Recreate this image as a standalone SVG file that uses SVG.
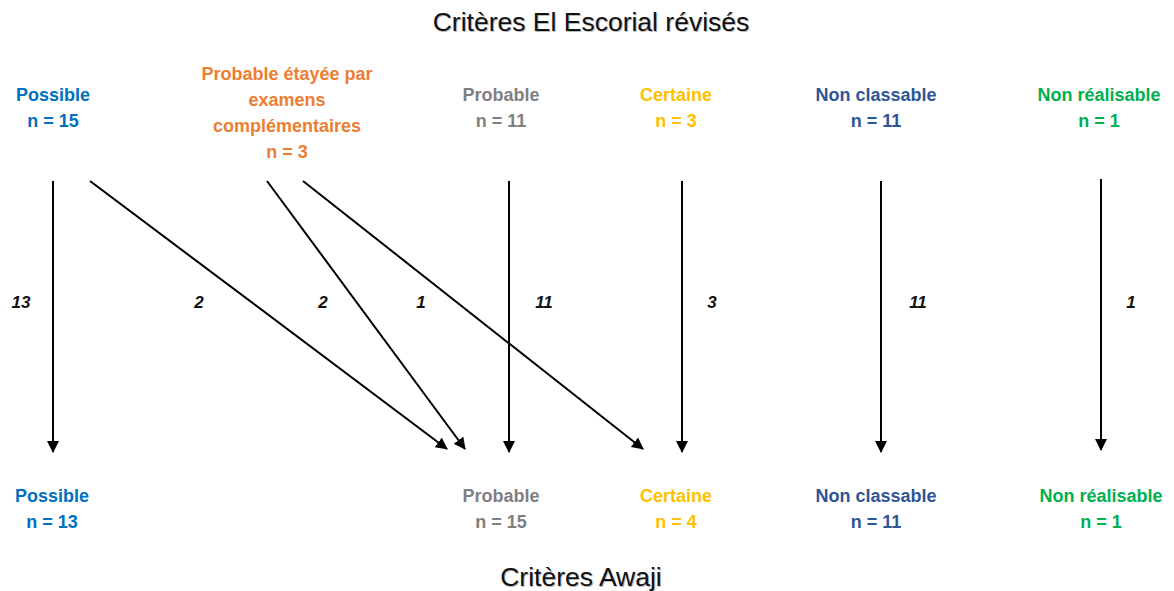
<svg xmlns="http://www.w3.org/2000/svg" width="1174" height="591" viewBox="0 0 1174 591">
<style>
.t{font-family:"Liberation Sans",Arial,sans-serif;font-size:26.5px;text-anchor:middle;fill:#111}
.sh{font-family:"Liberation Sans",Arial,sans-serif;font-size:26.5px;text-anchor:middle;fill:#bbb}
.n{font-family:"Liberation Sans",Arial,sans-serif;font-size:18px;font-weight:bold;text-anchor:middle}
.c{font-family:"Liberation Sans",Arial,sans-serif;font-size:17px;font-weight:bold;font-style:italic;text-anchor:middle;fill:#111}
.blue{fill:#0070C0}.orange{fill:#ED7D31}.gray{fill:#7F7F7F}.gold{fill:#FFC000}.dblue{fill:#2F5597}.green{fill:#00B050}
.a{stroke:#000;stroke-width:2;fill:none;marker-end:url(#ah)}
</style>
<defs>
<marker id="ah" markerWidth="12" markerHeight="12" refX="11" refY="6" orient="auto" markerUnits="userSpaceOnUse" viewBox="0 0 12 12">
<path d="M0,0 L12,6 L0,12 z" fill="#000"/>
</marker>
</defs>
<g id="title-top"><text class="sh" x="592" y="32">Critères El Escorial révisés</text><text class="t" x="591" y="31">Critères El Escorial révisés</text></g>
<g id="title-bottom"><text class="sh" x="582" y="587">Critères Awaji</text><text class="t" x="581" y="586">Critères Awaji</text></g>

<g id="top-possible"><text class="n blue" x="53" y="101">Possible</text><text class="n blue" x="53" y="127">n = 15</text></g>
<g id="top-probable-etayee"><text class="n orange" x="287" y="80">Probable  étayée par</text><text class="n orange" x="287" y="106">examens</text><text class="n orange" x="287" y="132">complémentaires</text><text class="n orange" x="287" y="158">n = 3</text></g>
<g id="top-probable"><text class="n gray" x="501" y="101">Probable</text><text class="n gray" x="501" y="127">n = 11</text></g>
<g id="top-certaine"><text class="n gold" x="676" y="101">Certaine</text><text class="n gold" x="676" y="127">n = 3</text></g>
<g id="top-nonclassable"><text class="n dblue" x="876" y="101">Non classable</text><text class="n dblue" x="876" y="127">n = 11</text></g>
<g id="top-nonrealisable"><text class="n green" x="1099" y="101">Non réalisable</text><text class="n green" x="1099" y="127">n = 1</text></g>

<g id="bot-possible"><text class="n blue" x="52" y="502">Possible</text><text class="n blue" x="52" y="528">n = 13</text></g>
<g id="bot-probable"><text class="n gray" x="501" y="502">Probable</text><text class="n gray" x="501" y="528">n = 15</text></g>
<g id="bot-certaine"><text class="n gold" x="676" y="502">Certaine</text><text class="n gold" x="676" y="528">n = 4</text></g>
<g id="bot-nonclassable"><text class="n dblue" x="876" y="502">Non classable</text><text class="n dblue" x="876" y="528">n = 11</text></g>
<g id="bot-nonrealisable"><text class="n green" x="1101" y="502">Non réalisable</text><text class="n green" x="1101" y="528">n = 1</text></g>

<g id="connectors">
<line class="a" x1="53" y1="181" x2="53" y2="452"/>
<line class="a" x1="90" y1="181" x2="447" y2="449"/>
<line class="a" x1="267" y1="181" x2="465" y2="449"/>
<line class="a" x1="303" y1="181" x2="643" y2="449"/>
<line class="a" x1="509" y1="181" x2="509" y2="452"/>
<line class="a" x1="682" y1="181" x2="682" y2="452"/>
<line class="a" x1="881" y1="181" x2="881" y2="452"/>
<line class="a" x1="1101" y1="179" x2="1101" y2="450"/>
<text class="c" x="21" y="308">13</text>
<text class="c" x="199" y="308">2</text>
<text class="c" x="323" y="308">2</text>
<text class="c" x="421" y="308">1</text>
<text class="c" x="544" y="308">11</text>
<text class="c" x="712" y="308">3</text>
<text class="c" x="918" y="308">11</text>
<text class="c" x="1131" y="308">1</text>
</g>
</svg>
